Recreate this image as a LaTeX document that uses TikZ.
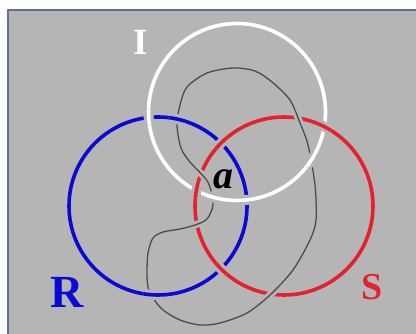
\documentclass[tikz,border=0pt]{standalone}
\usepackage{fontspec}
\setmainfont{Liberation Serif}
\usetikzlibrary{intersections}
\definecolor{RingBlue}{HTML}{0A0AD2}
\definecolor{RingRed}{HTML}{E4222E}
\definecolor{PanelGray}{HTML}{B5B5B5}
\definecolor{PanelEdge}{HTML}{5D6E98}
\definecolor{BeanGray}{HTML}{4C4C4C}
\tikzset{ring/.style={line width=3.6pt},bean/.style={BeanGray,line width=1.3pt},halo/.style={PanelGray,line width=10pt}}
\newcommand{\beanpath}{plot[smooth cycle] coordinates {(233,68) (255,71) (272,82) (290,100) (300,123) (308,145) (315,185) (316,220) (310,240) (293,270) (270,295) (247,313) (220,323) (200,325) (180,320) (163,310) (153,298) (148,287) (147,273) (148,253) (153,238) (163,232) (180,229) (195,225) (207,219) (213,205) (210,187) (205,178) (190,162) (181,148) (177,125) (180,105) (187,87) (207,73)}}

\begin{document}
\begin{tikzpicture}[x=1pt,y=-1pt,line cap=round,line join=round]
  \useasboundingbox (0,0) rectangle (416,334);
  \fill[white] (0,0) rectangle (416,334);
  \draw[PanelEdge,fill=PanelGray,line width=1.5pt] (8,10) rectangle (422,340);
  \coordinate (cI) at (237,112);\coordinate (cR) at (158,206);\coordinate (cS) at (284,206);
  \path[name path=blue] (cR) circle (89pt);\path[name path=white] (cI) circle (88.5pt);
  \path[name path=red] (cS) circle (89pt);\path[name path=bean] \beanpath;
  \path[name intersections={of=white and blue,name=WB}];\path[name intersections={of=red and white,name=RW}];
  \path[name intersections={of=red and blue,name=RB}];\path[name intersections={of=bean and red,name=GR}];
  \path[name intersections={of=bean and blue,name=GB}];\path[name intersections={of=bean and white,name=GW}];
  % base strands
  \draw[ring,RingBlue] (cR) circle (89pt);
  \draw[bean] \beanpath;
  \draw[ring,white] (cI) circle (88.5pt);
  \draw[ring,RingRed] (cS) circle (89pt);
  % over strands redrawn at each crossing
  \foreach \P in {GB-1,GB-2}{\begin{scope}\clip (\P) circle (8pt);\draw[halo] (cR) circle (89pt);\draw[ring,RingBlue] (cR) circle (89pt);\end{scope}}
  \foreach \P in {WB-1,WB-2,GW-1,GW-2}{\begin{scope}\clip (\P) circle (8pt);\draw[halo] (cI) circle (88.5pt);\draw[ring,white] (cI) circle (88.5pt);\end{scope}}
  \foreach \P in {RW-1,RW-2,RB-1,RB-2}{\begin{scope}\clip (\P) circle (8pt);\draw[halo] (cS) circle (89pt);\draw[ring,RingRed] (cS) circle (89pt);\end{scope}}
  \foreach \P in {GR-1,GR-2,GR-3,GR-4}{\begin{scope}\clip (\P) circle (8pt);\draw[halo,line width=7pt] \beanpath;\draw[bean] \beanpath;\end{scope}}
  % labels
  \node[text=white,font=\bfseries\fontsize{37}{37}\selectfont,inner sep=0pt] (labI) at (141,42) {I};
  \node[text=RingBlue,font=\bfseries\fontsize{46}{46}\selectfont,inner sep=0pt] (labR) at (67,292) {R};
  \node[text=RingRed,font=\bfseries\fontsize{38}{38}\selectfont,inner sep=0pt] (labS) at (372,287) {S};
  \node[font=\bfseries\itshape\fontsize{40}{40}\selectfont,inner sep=0pt] (laba) at (223,179) {a};
\end{tikzpicture}
\end{document}
